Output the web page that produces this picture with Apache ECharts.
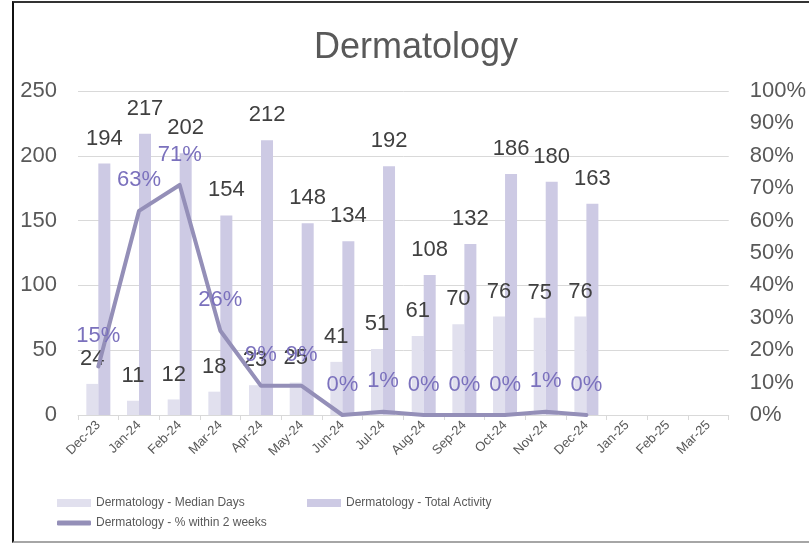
<!DOCTYPE html>
<html>
<head>
<meta charset="utf-8">
<script src="https://cdn.jsdelivr.net/npm/echarts@6/dist/echarts.min.js"></script>
<style>
  html, body { margin: 0; padding: 0; background: #fff; }
  #chart { position: absolute; left: 0; top: 0; width: 809px; height: 544px; }
  .frame {
    position: absolute; left: 12px; top: 1px; width: 900px; height: 538px;
    border-left: 2px solid #111; border-top: 2px solid #333; border-bottom: 2px solid #a6a6a6;
    pointer-events: none;
  }
</style>
</head>
<body>
<div id="chart"></div>
<div class="frame"></div>
<script>
// chart data
const months = ['Dec-23', 'Jan-24', 'Feb-24', 'Mar-24', 'Apr-24', 'May-24', 'Jun-24', 'Jul-24',
  'Aug-24', 'Sep-24', 'Oct-24', 'Nov-24', 'Dec-24', 'Jan-25', 'Feb-25', 'Mar-25'];
const medianDays = [24, 11, 12, 18, 23, 25, 41, 51, 61, 70, 76, 75, 76, null, null, null];
const totalActivity = [194, 217, 202, 154, 212, 148, 134, 192, 108, 132, 186, 180, 163, null, null, null];
const pctWithin2Weeks = [0.15, 0.63, 0.71, 0.26, 0.09, 0.09, 0.00, 0.01, 0.00, 0.00, 0.00, 0.01, 0.00, null, null, null];

const font = 'Liberation Sans, Arial, sans-serif';
const legendFont = 'Liberation Sans Narrow, Arial Narrow, Liberation Sans, sans-serif';

const chart = echarts.init(document.getElementById('chart'));
chart.setOption({
  animation: false,
  title: {
    text: 'Dermatology',
    left: 309,
    top: 25,
    textStyle: { fontFamily: font, fontSize: 36, fontWeight: 'normal', color: '#595959' }
  },
  legend: [
    {
      data: ['Dermatology - Median Days'],
      left: 52, top: 492,
      itemWidth: 34, itemHeight: 8,
      icon: 'rect',
      textStyle: { fontFamily: legendFont, fontSize: 12, color: '#595959' }
    },
    {
      data: ['Dermatology - Total Activity'],
      left: 302, top: 492,
      itemWidth: 34, itemHeight: 8,
      icon: 'rect',
      textStyle: { fontFamily: legendFont, fontSize: 12, color: '#595959' }
    },
    {
      data: ['Dermatology - % within 2 weeks'],
      left: 52, top: 512,
      itemWidth: 34, itemHeight: 5,
      icon: 'roundRect',
      textStyle: { fontFamily: legendFont, fontSize: 12, color: '#595959' }
    }
  ],
  grid: { left: 78, right: 78, top: 91, bottom: 129 },
  xAxis: {
    type: 'category',
    data: months,
    axisLine: { lineStyle: { color: '#d9d9d9', width: 1 } },
    axisTick: { show: true, length: 5, lineStyle: { color: '#d9d9d9' } },
    axisLabel: { rotate: 45, fontFamily: font, fontSize: 13, color: '#595959', margin: 8 }
  },
  yAxis: [
    {
      type: 'value', min: 0, max: 250, interval: 50,
      axisLine: { show: false }, axisTick: { show: false },
      axisLabel: { fontFamily: font, fontSize: 22, color: '#595959', margin: 21 },
      splitLine: { lineStyle: { color: '#d9d9d9', width: 1 } }
    },
    {
      type: 'value', min: 0, max: 1, interval: 0.1,
      axisLine: { show: false }, axisTick: { show: false },
      axisLabel: {
        fontFamily: font, fontSize: 22, color: '#595959', margin: 21,
        formatter: v => Math.round(v * 100) + '%'
      },
      splitLine: { show: false }
    }
  ],
  series: [
    {
      name: 'Dermatology - Median Days',
      type: 'bar',
      data: medianDays,
      barWidth: 12,
      barGap: '0%',
      itemStyle: { color: '#e1e0ee' },
      label: {
        show: true, position: 'top', distance: 14,
        fontFamily: font, fontSize: 22, color: '#404040'
      },
      z: 2
    },
    {
      name: 'Dermatology - Total Activity',
      type: 'bar',
      data: totalActivity,
      barWidth: 12,
      itemStyle: { color: '#cdcae4' },
      label: {
        show: true, position: 'top', distance: 14,
        fontFamily: font, fontSize: 22, color: '#404040'
      },
      z: 2
    },
    {
      name: 'Dermatology - % within 2 weeks',
      type: 'line',
      yAxisIndex: 1,
      data: pctWithin2Weeks,
      symbol: 'circle',
      symbolSize: 1,
      showSymbol: true,
      lineStyle: { color: '#948fb8', width: 4, cap: 'round', join: 'round' },
      itemStyle: { color: '#948fb8' },
      label: {
        show: true, position: 'top', distance: 19,
        fontFamily: font, fontSize: 22, color: '#7b71bd',
        formatter: p => Math.round(p.value * 100) + '%'
      },
      labelLayout: { hideOverlap: false },
      z: 3
    }
  ]
});
</script>
</body>
</html>
